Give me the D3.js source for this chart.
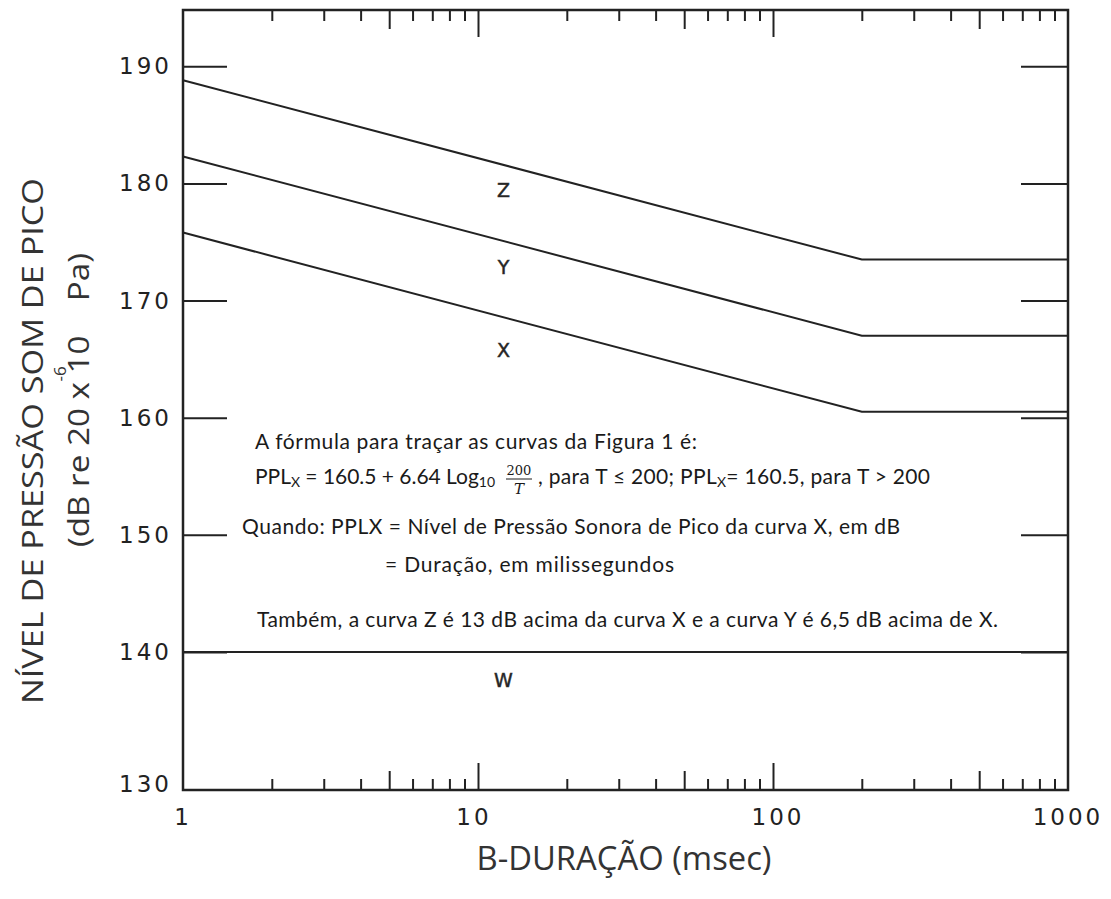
<!DOCTYPE html>
<html>
<head>
    <meta charset="utf-8">
    <title>Nível de pressão sonora de pico x duração</title>
    <script src="https://d3js.org/d3.v7.min.js"></script>
    <style>
        body { margin: 0; background: #fff; }
        .num { font-family: "DejaVu Sans", sans-serif; fill: #222; }
        .note { font-family: Lato, "Open Sans", sans-serif; fill: #1a1a1a; }
        .title { font-family: "Open Sans", sans-serif; fill: #333; }
    </style>
</head>
<body>
    <div id="chart"></div>

    <script>
        // dados
        const durations = [1, 200, 1000];          // ms
        const curveX = [175.8, 160.5, 160.5];      // dB
        const curveY = [182.3, 167.0, 167.0];
        const curveZ = [188.8, 173.5, 173.5];
        const durationsW = [1, 1000];
        const curveW = [140, 140];

        const yTickValues = [190, 180, 170, 160, 150, 140, 130];
        const xLabelValues = [1, 10, 100, 1000];
        const xMinorTicks = [2, 3, 4, 6, 7, 8, 9, 20, 30, 40, 60, 70, 80, 90, 200, 300, 400, 600, 700, 800, 900];
        const xMidTicks = [5, 50, 500];
        const xMajorTicks = [10, 100];

        const curveNames = ["Z", "Y", "X", "W"];
        const labelT = 12.2;
        const labelLevels = [179.4, 172.9, 165.8, 138.0];

        const svg = d3.select("#chart")
            .append("svg")
            .attr("width", 1111)
            .attr("height", 899);

        // escalas (a figura original tem o intervalo 130-140 um pouco esticado)
        const x = d3.scaleLog().domain([1, 1000]).range([183, 1068]);
        const y = d3.scaleLinear().domain([130, 140, 194.8]).range([790, 652, 10]);

        const plotLeft = 183, plotRight = 1068, plotTop = 10, plotBottom = 790;

        // ticks de baixo e de cima (para dentro)
        function xTicks(vals, len) {
            svg.append("g")
                .attr("transform", `translate(0,${plotBottom})`)
                .call(d3.axisBottom(x).tickValues(vals).tickSize(-len).tickFormat(""))
                .call(g => g.select(".domain").remove());
            svg.append("g")
                .attr("transform", `translate(0,${plotTop})`)
                .call(d3.axisTop(x).tickValues(vals).tickSize(-len).tickFormat(""))
                .call(g => g.select(".domain").remove());
        }
        xTicks(xMinorTicks, 11);
        xTicks(xMidTicks, 19);
        xTicks(xMajorTicks, 27);

        // ticks da esquerda e direita
        svg.append("g")
            .attr("transform", `translate(${plotLeft},0)`)
            .call(d3.axisLeft(y).tickValues(yTickValues.slice(0, 6)).tickSize(-44).tickFormat(""))
            .call(g => g.select(".domain").remove());
        svg.append("g")
            .attr("transform", `translate(${plotRight},0)`)
            .call(d3.axisRight(y).tickValues(yTickValues.slice(0, 6)).tickSize(-47).tickFormat(""))
            .call(g => g.select(".domain").remove());

        svg.selectAll(".tick line")
            .attr("stroke", "#222")
            .attr("stroke-width", 2);

        // rótulos dos eixos
        svg.append("g").selectAll("text")
            .data(yTickValues)
            .enter().append("text")
            .attr("class", "num")
            .attr("x", 172)
            .attr("y", d => y(d) + 8 - (d === 130 ? 6 : 0))
            .attr("text-anchor", "end")
            .attr("font-size", 23)
            .attr("letter-spacing", 3)
            .text(d => d);

        svg.append("g").selectAll("text")
            .data(xLabelValues)
            .enter().append("text")
            .attr("class", "num")
            .attr("x", d => x(d) + (d === 10 ? -4 : d === 100 ? 5 : 0))
            .attr("y", 825)
            .attr("text-anchor", "middle")
            .attr("font-size", 23)
            .attr("letter-spacing", 3)
            .text(d => d);

        // curvas
        const line = d3.line().x(d => x(d[0])).y(d => y(d[1]));
        const series = [curveZ, curveY, curveX].map(c => durations.map((t, i) => [t, c[i]]));
        series.push(durationsW.map((t, i) => [t, curveW[i]]));

        svg.append("g").selectAll("path")
            .data(series)
            .enter().append("path")
            .attr("d", line)
            .attr("fill", "none")
            .attr("stroke", "#222")
            .attr("stroke-width", 2);

        svg.append("g").selectAll("text")
            .data(curveNames)
            .enter().append("text")
            .attr("class", "num")
            .attr("x", x(labelT))
            .attr("y", (d, i) => y(labelLevels[i]) + 7)
            .attr("text-anchor", "middle")
            .attr("font-size", 19)
            .attr("stroke", "#333")
            .attr("stroke-width", 0.5)
            .attr("fill", "#333")
            .text(d => d);

        // moldura
        svg.append("rect")
            .attr("x", plotLeft).attr("y", plotTop)
            .attr("width", plotRight - plotLeft).attr("height", plotBottom - plotTop)
            .attr("fill", "none")
            .attr("stroke", "#222")
            .attr("stroke-width", 2.5);

        // texto da fórmula
        const note = svg.append("g").attr("class", "note").attr("font-size", 21);

        note.append("text").attr("x", 255).attr("y", 449)
            .attr("textLength", 442)
            .text("A fórmula para traçar as curvas da Figura 1 é:");

        const l2a = note.append("text").attr("x", 255).attr("y", 484).attr("textLength", 240);
        l2a.append("tspan").text("PPL");
        l2a.append("tspan").attr("font-size", 14).attr("dy", 3).text("X");
        l2a.append("tspan").attr("dy", -3).text(" = 160.5 + 6.64 Log");
        l2a.append("tspan").attr("font-size", 14).attr("dy", 3).text("10");

        note.append("text").attr("x", 519).attr("y", 475)
            .attr("text-anchor", "middle")
            .attr("font-family", "'DejaVu Serif', serif")
            .attr("font-size", 13)
            .text("200");
        note.append("line")
            .attr("x1", 506).attr("x2", 532).attr("y1", 479).attr("y2", 479)
            .attr("stroke", "#1a1a1a").attr("stroke-width", 1);
        note.append("text").attr("x", 519).attr("y", 494)
            .attr("text-anchor", "middle")
            .attr("font-family", "'DejaVu Serif', serif")
            .attr("font-style", "italic")
            .attr("font-size", 15)
            .text("T");

        const l2b = note.append("text").attr("x", 538).attr("y", 484).attr("textLength", 392);
        l2b.append("tspan").text(", para T ≤ 200; PPL");
        l2b.append("tspan").attr("font-size", 14).attr("dy", 3).text("X");
        l2b.append("tspan").attr("dy", -3).text("= 160.5, para T > 200");

        note.append("text").attr("x", 242).attr("y", 534)
            .attr("textLength", 658)
            .text("Quando: PPLX = Nível de Pressão Sonora de Pico da curva X, em dB");
        note.append("text").attr("x", 385).attr("y", 572)
            .attr("textLength", 289)
            .text("= Duração, em milissegundos");
        note.append("text").attr("x", 257).attr("y", 627)
            .attr("textLength", 741)
            .text("Também, a curva Z é 13 dB acima da curva X e a curva Y é 6,5 dB acima de X.");

        // títulos dos eixos
        svg.append("text")
            .attr("class", "title")
            .attr("x", 624).attr("y", 870)
            .attr("text-anchor", "middle")
            .attr("font-size", 32)
            .attr("textLength", 295)
            .attr("lengthAdjust", "spacingAndGlyphs")
            .text("B-DURAÇÃO (msec)");

        svg.append("text")
            .attr("class", "title")
            .attr("transform", "translate(43,441) rotate(-90)")
            .attr("text-anchor", "middle")
            .attr("font-size", 30)
            .attr("textLength", 526)
            .attr("lengthAdjust", "spacingAndGlyphs")
            .text("NÍVEL DE PRESSÃO SOM DE PICO");

        svg.append("text")
            .attr("class", "title")
            .attr("transform", "translate(89,400) rotate(-90)")
            .attr("text-anchor", "middle")
            .attr("font-size", 30)
            .attr("textLength", 294)
            .attr("lengthAdjust", "spacingAndGlyphs")
            .style("white-space", "pre")
            .text("(dB re 20 x 10    Pa)");

        svg.append("text")
            .attr("class", "title")
            .attr("transform", "translate(66,374) rotate(-90)")
            .attr("text-anchor", "middle")
            .attr("font-size", 17)
            .text("-6");
    </script>
</body>
</html>
